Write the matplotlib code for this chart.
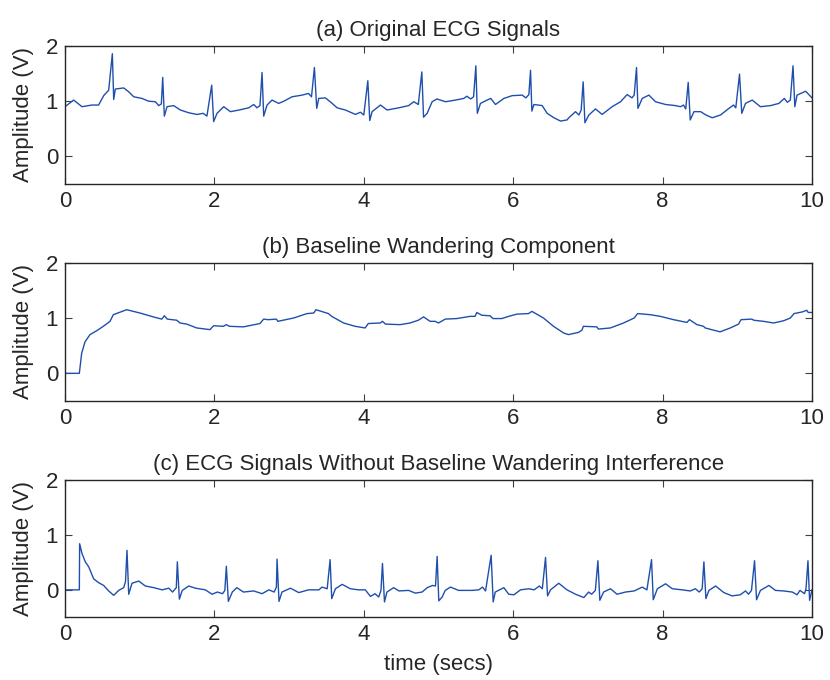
import matplotlib
matplotlib.use("Agg")
import matplotlib.pyplot as plt

# ---------------- data ----------------
# (a) Original ECG signal: polyline vertices (time s, amplitude V)
t_orig = [0.0, 0.116, 0.228, 0.36, 0.45, 0.518, 0.585, 0.634, 0.652, 0.674, 0.786, 0.853, 0.92, 1.03, 1.12, 1.21, 1.255, 1.29,
          1.308, 1.33, 1.366, 1.455, 1.545, 1.657, 1.768, 1.85, 1.90, 1.964, 1.99, 2.035, 2.125, 2.214, 2.33, 2.46, 2.527,
          2.57, 2.61, 2.638, 2.66, 2.705, 2.772, 2.86, 2.93, 3.04, 3.174, 3.26, 3.30, 3.339, 3.37, 3.397, 3.486, 3.576,
          3.643, 3.754, 3.888, 3.955, 4.0, 4.054, 4.08, 4.111, 4.223, 4.312, 4.469, 4.6, 4.67, 4.73, 4.777, 4.80, 4.848,
          4.915, 4.98, 5.093, 5.227, 5.339, 5.38, 5.43, 5.47, 5.50, 5.52, 5.562, 5.651, 5.70, 5.763, 5.875, 5.986, 6.12,
          6.17, 6.21, 6.232, 6.25, 6.277, 6.388, 6.455, 6.545, 6.634, 6.72, 6.745, 6.834, 6.88, 6.91, 6.937, 6.96, 7.013,
          7.102, 7.19, 7.325, 7.437, 7.526, 7.59, 7.62, 7.651, 7.67, 7.727, 7.817, 7.905, 8.04, 8.173, 8.24, 8.28, 8.31,
          8.343, 8.37, 8.42, 8.51, 8.58, 8.665, 8.776, 8.888, 8.95, 8.98, 9.03, 9.06, 9.11, 9.2, 9.31, 9.445, 9.557, 9.63,
          9.67, 9.71, 9.746, 9.77, 9.80, 9.915, 10.0]
v_orig = [0.90, 1.02, 0.90, 0.93, 0.93, 1.10, 1.20, 1.86, 1.03, 1.22, 1.24, 1.17, 1.08, 1.05, 1.00, 0.99, 0.92, 0.95,
          1.43, 0.73, 0.90, 0.92, 0.84, 0.79, 0.76, 0.78, 0.73, 1.29, 0.63, 0.78, 0.90, 0.81, 0.84, 0.88, 0.94,
          0.88, 0.92, 1.52, 0.73, 0.93, 1.02, 0.96, 1.00, 1.08, 1.11, 1.14, 1.08, 1.61, 0.87, 1.05, 1.06, 0.96,
          0.88, 0.84, 0.76, 0.80, 0.75, 1.37, 0.65, 0.81, 0.93, 0.84, 0.88, 0.92, 0.99, 0.94, 1.53, 0.71, 0.78,
          0.99, 1.04, 0.99, 1.02, 1.05, 1.09, 1.04, 1.08, 1.64, 0.78, 0.96, 1.02, 1.05, 0.94, 1.05, 1.10, 1.11,
          1.06, 1.12, 1.56, 0.82, 0.94, 0.92, 0.78, 0.70, 0.64, 0.66, 0.70, 0.81, 0.75, 0.84, 1.35, 0.61, 0.75,
          0.86, 0.76, 0.90, 0.99, 1.12, 1.06, 1.11, 1.61, 0.87, 1.05, 1.11, 0.99, 0.94, 0.92, 0.90, 0.93, 0.86,
          1.34, 0.66, 0.81, 0.81, 0.75, 0.70, 0.75, 0.87, 0.93, 0.88, 1.49, 0.78, 0.96, 1.02, 0.90, 0.92, 0.96, 1.05,
          0.98, 1.02, 1.64, 0.90, 1.11, 1.18, 1.06]

# (b) Baseline wandering component
t_base = [0.0, 0.192, 0.223, 0.268, 0.335, 0.424, 0.513, 0.603, 0.647, 0.826, 1.004, 1.183, 1.295, 1.33, 1.37, 1.496,
          1.54, 1.63, 1.764, 1.94, 1.99, 2.12, 2.16, 2.2, 2.388, 2.61, 2.66, 2.72, 2.83, 2.85, 3.06, 3.24, 3.33, 3.36,
          3.527, 3.57, 3.73, 3.884, 4.018, 4.06, 4.22, 4.25, 4.29, 4.487, 4.62, 4.73, 4.80, 4.888, 4.955, 5.0, 5.09,
          5.245, 5.424, 5.49, 5.513, 5.58, 5.69, 5.73, 5.848, 5.94, 6.05, 6.205, 6.25, 6.405, 6.54, 6.674, 6.74, 6.874,
          6.92, 6.94, 7.12, 7.14, 7.30, 7.477, 7.62, 7.665, 7.835, 7.97, 8.147, 8.326, 8.36, 8.46, 8.548, 8.57, 8.77,
          8.906, 9.017, 9.05, 9.196, 9.22, 9.35, 9.486, 9.62, 9.71, 9.76, 9.87, 9.93, 9.95, 10.0]
v_base = [0.0, 0.0, 0.36, 0.57, 0.70, 0.77, 0.85, 0.94, 1.06, 1.15, 1.09, 1.02, 0.98, 1.04, 0.98, 0.96,
          0.91, 0.89, 0.82, 0.79, 0.86, 0.85, 0.88, 0.85, 0.84, 0.90, 0.98, 0.97, 0.98, 0.94, 1.00, 1.08, 1.09, 1.15,
          1.08, 1.03, 0.91, 0.85, 0.82, 0.90, 0.91, 0.94, 0.89, 0.88, 0.91, 0.96, 1.02, 0.94, 0.94, 0.91, 0.98,
          0.99, 1.03, 1.03, 1.10, 1.05, 1.04, 0.99, 0.99, 1.03, 1.07, 1.08, 1.12, 1.00, 0.85, 0.73, 0.70, 0.74,
          0.78, 0.85, 0.84, 0.80, 0.82, 0.91, 1.00, 1.08, 1.06, 1.03, 0.97, 0.92, 0.97, 0.88, 0.85, 0.82, 0.75,
          0.82, 0.89, 0.97, 0.98, 0.96, 0.94, 0.91, 0.95, 1.00, 1.08, 1.11, 1.14, 1.10, 1.10]

# (c) ECG signal without baseline wandering interference
t_clean = [0.0, 0.192, 0.196, 0.228, 0.272, 0.317, 0.384, 0.451, 0.518, 0.585, 0.652, 0.719, 0.786, 0.81, 0.830, 0.853,
           0.897, 0.987, 1.076, 1.188, 1.30, 1.39, 1.44, 1.49, 1.504, 1.531, 1.57, 1.656, 1.745, 1.879, 1.969, 2.04,
           2.11, 2.14, 2.16, 2.187, 2.24, 2.30, 2.39, 2.527, 2.638, 2.73, 2.80, 2.83, 2.839, 2.865, 2.905, 3.018, 3.13,
           3.26, 3.37, 3.40, 3.44, 3.51, 3.549, 3.571, 3.62, 3.71, 3.82, 3.93, 4.02, 4.09, 4.15, 4.2, 4.23, 4.25,
           4.277, 4.31, 4.40, 4.47, 4.60, 4.69, 4.78, 4.85, 4.92, 4.96, 4.982, 5.004, 5.05, 5.09, 5.16, 5.27, 5.45,
           5.54, 5.59, 5.63, 5.705, 5.732, 5.76, 5.875, 5.94, 6.01, 6.098, 6.21, 6.28, 6.35, 6.39, 6.433, 6.46, 6.50,
           6.61, 6.72, 6.834, 6.946, 7.01, 7.05, 7.10, 7.134, 7.16, 7.21, 7.303, 7.39, 7.504, 7.62, 7.727, 7.79, 7.852,
           7.875, 7.93, 8.04, 8.13, 8.263, 8.37, 8.44, 8.49, 8.53, 8.553, 8.58, 8.62, 8.71, 8.82, 8.93, 9.04, 9.11,
           9.15, 9.19, 9.231, 9.258, 9.31, 9.424, 9.51, 9.62, 9.736, 9.80, 9.84, 9.90, 9.92, 9.946, 9.968, 10.0]
v_clean = [0.0, 0.0, 0.84, 0.66, 0.51, 0.42, 0.20, 0.13, 0.08, -0.02, -0.10, -0.01, 0.04, 0.15, 0.72, -0.08,
           0.12, 0.16, 0.07, 0.04, 0.00, 0.03, -0.04, 0.04, 0.51, -0.17, -0.01, 0.07, 0.03, 0.00, -0.08, -0.04,
           -0.07, -0.01, 0.43, -0.21, -0.04, 0.04, -0.04, -0.02, -0.07, 0.00, -0.04, 0.05, 0.56, -0.21, -0.04, 0.03, -0.05,
           0.00, 0.00, 0.00, 0.05, 0.02, 0.55, -0.16, 0.02, 0.10, 0.02, 0.00, 0.00, -0.12, -0.07, -0.13, -0.01, 0.48,
           -0.22, -0.04, 0.04, -0.02, -0.01, -0.06, -0.04, 0.04, 0.08, 0.07, 0.61, -0.20, -0.13, -0.01, 0.05, -0.01, -0.01,
           0.00, 0.05, -0.02, 0.63, -0.22, -0.04, 0.04, -0.08, -0.09, 0.00, 0.02, 0.00, 0.07, 0.02, 0.59, -0.11, 0.00,
           0.12, 0.00, -0.08, -0.14, -0.04, -0.08, -0.01, 0.53, -0.19, -0.04, 0.02, -0.08, -0.04, -0.02, 0.05, 0.00, 0.55,
           -0.18, 0.02, 0.11, 0.02, 0.00, -0.02, 0.02, -0.04, 0.02, 0.51, -0.16, -0.01, 0.07, -0.05, -0.11, -0.09, -0.02,
           -0.08, -0.01, 0.53, -0.18, -0.01, 0.08, -0.01, -0.02, -0.04, -0.09, -0.01, -0.07, 0.02, 0.53, -0.19, 0.00]

titles = ["(a) Original ECG Signals",
          "(b) Baseline Wandering Component",
          "(c) ECG Signals Without Baseline Wandering Interference"]
x_ticks = [0, 2, 4, 6, 8, 10]
y_ticks = [0, 1, 2]
y_label = "Amplitude (V)"
x_label = "time (secs)"

# ---------------- figure ----------------
plt.rcParams['font.family'] = ['Liberation Sans', 'DejaVu Sans']
line_color = '#1f4fad'
text_color = '#262626'
fs = 16

fig = plt.figure(figsize=(8.3, 6.8), dpi=100)
boxes = [[0.0783, 0.7294, 0.900, 0.2030],
         [0.0783, 0.4103, 0.900, 0.2034],
         [0.0783, 0.0922, 0.900, 0.2019]]
series = [(t_orig, v_orig), (t_base, v_base), (t_clean, v_clean)]

for i, (box, (tt, vv), title) in enumerate(zip(boxes, series, titles)):
    ax = fig.add_axes(box)
    ax.plot(tt, vv, color=line_color, lw=1.0)
    ax.set_xlim(0, 10)
    ax.set_ylim(-0.5, 2)
    ax.set_xticks(x_ticks)
    ax.set_yticks(y_ticks)
    ax.tick_params(direction='in', length=5, width=0.8, top=True, right=True,
                   labelsize=fs, colors='#404040', labelcolor=text_color, pad=5)
    for s in ax.spines.values():
        s.set_color('#262626')
        s.set_linewidth(1.0)
    ax.set_title(title, fontsize=fs, color=text_color, pad=7)
    ax.set_ylabel(y_label, fontsize=fs, color=text_color, labelpad=8)
    if i == 2:
        ax.set_xlabel(x_label, fontsize=fs, color=text_color, labelpad=6)

fig.savefig("out.png", dpi=100)
